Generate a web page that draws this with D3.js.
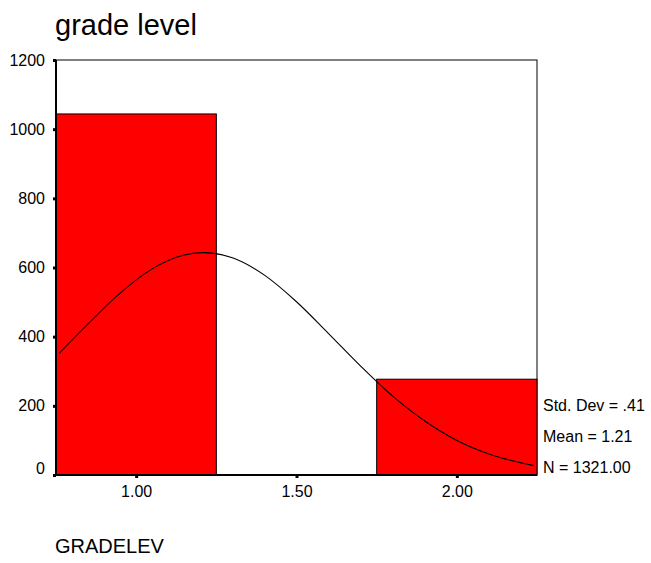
<!DOCTYPE html>
<html>
<head>
<meta charset="utf-8">
<script src="https://cdn.jsdelivr.net/npm/d3@7"></script>
<style>
  body { margin: 0; background: #fff; }
  text { font-family: "Liberation Sans", Arial, sans-serif; fill: #000; }
</style>
</head>
<body>
<svg id="chart" width="651" height="563"></svg>
<script>
// histogram bins (GRADELEV)
var binStart = [0.75, 1.25, 1.75];
var binEnd = [1.25, 1.75, 2.25];
var counts = [1044, 0, 277];
// normal curve
var curveX = [0.76, 0.85, 0.95, 1.05, 1.15, 1.21, 1.30, 1.40, 1.50, 1.60, 1.70, 1.80, 1.90, 2.00, 2.10, 2.24];
var curveY = [352, 437, 526, 596, 636, 643, 628, 578, 501, 409, 315, 228, 156, 100, 61, 27];
var xTicks = [1.0, 1.5, 2.0];
var yTicks = [0, 200, 400, 600, 800, 1000, 1200];
var stats = ["Std. Dev = .41", "Mean = 1.21", "N = 1321.00"];

var svg = d3.select("#chart");
var pLeft = 56, pRight = 537, pTop = 60, pBottom = 475;

var x = d3.scaleLinear().domain([0.75, 2.25]).range([pLeft, pRight]);
var y = d3.scaleLinear().domain([0, 1200]).range([pBottom, pTop]);

svg.append("text").attr("x", 55).attr("y", 35)
    .style("font-size", "29px").text("grade level");

// frame
svg.append("rect").attr("x", pLeft).attr("y", pTop)
    .attr("width", pRight - pLeft).attr("height", pBottom - pTop)
    .attr("fill", "none").attr("stroke", "#000").attr("stroke-width", 1);

// bars (empty bin draws nothing)
var bins = counts.map(function (c, i) { return { c: c, x0: binStart[i], x1: binEnd[i] }; })
    .filter(function (b) { return b.c > 0; });
svg.selectAll(".bar").data(bins).enter().append("rect")
    .attr("class", "bar")
    .attr("x", function (d) { return x(d.x0); })
    .attr("width", function (d) { return x(d.x1) - x(d.x0); })
    .attr("y", function (d) { return y(d.c); })
    .attr("height", function (d) { return y(0) - y(d.c); })
    .attr("fill", "#ff0000").attr("stroke", "#000").attr("stroke-width", 1);

// curve
var pts = curveX.map(function (v, i) { return [v, curveY[i]]; });
svg.append("path").datum(pts)
    .attr("d", d3.line().x(function (d) { return x(d[0]); }).y(function (d) { return y(d[1]); }).curve(d3.curveMonotoneX))
    .attr("fill", "none").attr("stroke", "#000").attr("stroke-width", 1.1);

// axes
var yAxis = svg.append("g").attr("transform", "translate(" + pLeft + ",0)")
    .call(d3.axisLeft(y).tickValues(yTicks).tickSize(3).tickPadding(8).tickFormat(d3.format("d")));
yAxis.select(".domain").attr("stroke-width", 2).attr("d", "M0," + pTop + "V" + pBottom);
yAxis.selectAll(".tick line").attr("stroke-width", 3);
yAxis.selectAll("text").style("font-size", "16px")
    .attr("y", function (d) { return d === 0 ? -7 : 0; });

var xAxis = svg.append("g").attr("transform", "translate(0," + pBottom + ")")
    .call(d3.axisBottom(x).tickValues(xTicks).tickSize(3).tickPadding(8).tickFormat(d3.format(".2f")));
xAxis.select(".domain").attr("stroke-width", 2).attr("d", "M" + pLeft + ",0H" + pRight);
xAxis.selectAll(".tick line").attr("stroke-width", 3);
xAxis.selectAll("text").style("font-size", "16px");

// stats legend
svg.selectAll(".stat").data(stats).enter().append("text")
    .attr("class", "stat")
    .attr("x", 543)
    .attr("y", function (d, i) { return 411 + i * 31; })
    .style("font-size", "16px")
    .text(function (d) { return d; });

svg.append("text").attr("x", 55).attr("y", 553)
    .style("font-size", "20px").text("GRADELEV");
</script>
</body>
</html>
